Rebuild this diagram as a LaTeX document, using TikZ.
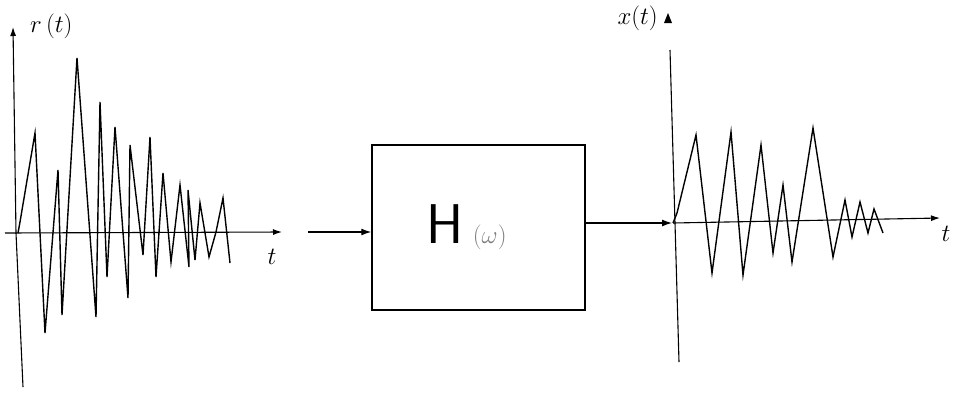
\documentclass[tikz,border=0pt]{standalone}
\usetikzlibrary{arrows.meta, positioning}

\begin{document}
\begin{tikzpicture}[
		x=1pt, y=-1pt,
		% --- ESTILOS ---
		axis/.style = {line width=1.1pt, -{Latex[length=9pt, width=6pt]}},
		signal/.style = {line width=1.4pt, line join=miter},
		block/.style = {draw, line width=1.5pt, rectangle, minimum width=213pt, minimum height=165pt, inner sep=0pt},
		lbl/.style = {font=\fontsize{25}{27}\selectfont, inner sep=0pt},
		>={Latex[length=10pt, width=7pt]}
		]
		\useasboundingbox (0,0) rectangle (960,392);
		
		% --- GRAFICA DE ENTRADA ---
		\coordinate (in_o) at (16,233);
		\coordinate (in_bot) at (23,387);
		\coordinate (in_top) at (13,27);
		\coordinate (in_tl) at (5,233);
		\coordinate (in_tr) at (282,232);
		\draw [line width=1.1pt] (in_bot) -- (in_o);
		\draw [axis] (in_o) -- (in_top);
		\draw [axis] (in_tl) -- (in_tr);
		\node [lbl, anchor=west] (in_label) at (30,26) {$r\,(t)$};
		\node [lbl] (in_t) at (272,257) {$t$};
		
		\draw [signal] (18,233) -- (20,222) -- (35,133) -- (45,333) -- (58,170)
			-- (62,315) -- (77,58) -- (96,317) -- (100,102) -- (107,277)
			-- (115,127) -- (128,298) -- (130,145) -- (143,255) -- (150,137)
			-- (156,277) -- (163,173) -- (171,262) -- (180,185) -- (189,267)
			-- (188,190) -- (195,260) -- (200,203) -- (209,257) -- (216,232)
			-- (223,198) -- (230,263);
		
		% --- BLOQUE H ---
		\node [block] (hw) at (478.5,227.5) {};
		\node [xshift=-12pt] (hw_text) at (hw.center) {\fontsize{56}{60}\selectfont\sffamily H\,{\color{gray}\fontsize{28}{30}\selectfont$(\omega)$}};
		\coordinate (u_in) at (308,232);
		\coordinate (y_out) at (672,223);
		\draw [->, line width=1.2pt] (u_in) -- (hw.west |- u_in);
		\draw [->, line width=1.2pt] (hw.east |- y_out) -- (y_out);
		
		% --- GRAFICA DE SALIDA ---
		\coordinate (out_o) at (673,223);
		\coordinate (out_bot) at (679,362);
		\coordinate (out_top) at (670,50);
		\coordinate (out_arrow) at (668,13);
		\coordinate (out_tr) at (940,218);
		\draw [line width=1.1pt] (out_bot) -- (out_top);
		\fill (out_arrow) ++(-4,10) -- (out_arrow) -- ++(4,10) -- cycle;
		\draw [axis] (out_o) -- (out_tr);
		\node [lbl, anchor=east] (out_label) at (658,18) {$x(t)$};
		\node [lbl] (out_t) at (946,234) {$t$};
		
		\draw [signal] (673,223) -- (677,213) -- (696,135) -- (712,273) -- (731,132)
			-- (743,275) -- (761,145) -- (773,253) -- (783,185) -- (792,262)
			-- (813,128) -- (833,257) -- (845,200) -- (852,237) -- (860,202)
			-- (868,233) -- (874,209) -- (883,233);
		
	\end{tikzpicture}
\end{document}
